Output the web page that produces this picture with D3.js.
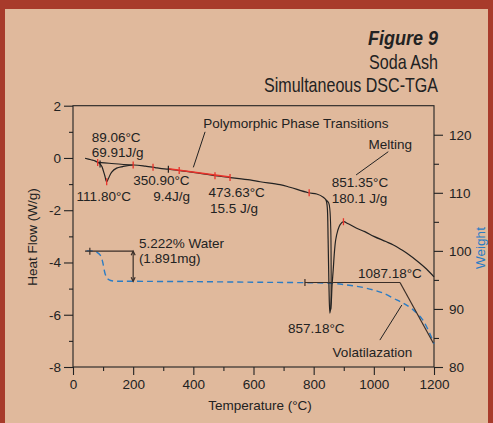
<!DOCTYPE html>
<html><head><meta charset="utf-8">
<script src="https://cdn.jsdelivr.net/npm/d3@7"></script>
<style>
html,body{margin:0;padding:0;background:#a83b2b;}
svg{display:block;}
text{font-family:"Liberation Sans",Arial,Helvetica,sans-serif;fill:#222;}
</style></head><body>
<svg id="c" width="493" height="423"></svg>
<script>
// ---- data ----
const tempTicks = [0, 200, 400, 600, 800, 1000, 1200];
const tempMinor = [100, 300, 500, 700, 900, 1100];
const heatTicks = [-8, -6, -4, -2, 0, 2];
const heatMinor = [-7, -5, -3, -1, 1];
const weightTicks = [80, 90, 100, 110, 120];
const weightMinor = [85, 95, 105, 115];

// DSC heat flow curve [temperature °C, W/g]
const dscCurve = [
  [40,-0.01],[60,-0.07],[73,-0.11],[82,-0.17],[90,-0.23],[96,-0.33],[100,-0.46],[106,-0.69],
  [112,-0.91],[118,-0.78],[128,-0.55],[145,-0.39],[165,-0.33],[200,-0.27],[240,-0.31],
  [273,-0.37],[289,-0.40],[317,-0.43],[353,-0.48],[400,-0.55],[472,-0.68],[522,-0.75],
  [588,-0.84],[622,-0.91],[688,-1.02],[721,-1.12],[782,-1.33],[810,-1.38],[832,-1.50],
  [841,-1.61],[845,-1.86],[848,-3.1],[851,-5.0],[854,-5.94],[858,-5.6],[861,-4.9],
  [865,-4.28],[869,-3.6],[873,-3.15],[880,-2.78],[888,-2.55],[899,-2.44],[915,-2.52],
  [943,-2.69],[970,-2.82],[1000,-3.0],[1040,-3.2],[1065,-3.33],[1090,-3.5],[1110,-3.65],
  [1150,-4.0],[1175,-4.25],[1200,-4.55]
];
// second trace drawn in the melting region
const dscMeltBaseline = [[841,-1.61],[850,-1.72],[854,-2.0],[857,-2.8],[858,-4.0],[858,-5.2],[857,-5.8]];
// integration baseline of first endotherm
const dscWaterBaseline = [[82,-0.17],[120,-0.2],[160,-0.24],[200,-0.27]];

// TGA weight curve [temperature °C, %]
const tgaCurve = [
  [45,100.0],[70,99.95],[80,99.75],[90,99.3],[97,98.4],[101,97.5],[106,96.2],[112,95.4],
  [117,95.1],[125,94.9],[134,94.8],[200,94.76],[400,94.7],[600,94.6],[700,94.56],
  [800,94.5],[865,94.4],[910,94.13],[954,93.8],[998,93.27],[1032,92.7],[1076,91.55],
  [1098,91.0],[1131,89.84],[1160,88.3],[1175,86.97],[1190,85.3],[1200,84.0]
];

// markers on DSC curve
const redMarks = [82, 112, 200, 266, 353, 472, 522, 785, 899];
const blackMarks = [90, 317];
const polymorphSpan = [317, 522];

// ---- layout ----
const svg = d3.select("#c");
svg.append("rect").attr("x",5).attr("y",9).attr("width",483).attr("height",414).attr("fill","#e0b99c");

const L = 73, R = 434, T = 105.7, B = 367;
const x = d3.scaleLinear().domain([0,1200]).range([L,R]);
const yH = d3.scaleLinear().domain([-8,2]).range([B,T]);
const yW = d3.scaleLinear().domain([80,125]).range([B,T]);

const ink = "#222";
const FS = 13.5;

// titles
function title(txt, y, len, bold){
  svg.append("text").attr("x",438).attr("y",y).attr("text-anchor","end")
    .attr("font-size",21).attr("textLength",len).attr("lengthAdjust","spacingAndGlyphs")
    .attr("font-weight",bold?"bold":"normal").attr("font-style",bold?"italic":"normal")
    .text(txt);
}
title("Figure 9", 45, 70, true);
title("Soda Ash", 69, 69, false);
title("Simultaneous DSC-TGA", 92, 174, false);

// frame
svg.append("rect").attr("x",L).attr("y",T).attr("width",R-L).attr("height",B-T)
  .attr("fill","none").attr("stroke",ink).attr("stroke-width",1.1);

const fmt = d => String(d);
function styleAxis(g){
  g.select(".domain").remove();
  g.selectAll("line").attr("stroke",ink).attr("stroke-width",1.1);
  g.selectAll("text").attr("font-size",FS).attr("fill",ink)
    .attr("font-family","'Liberation Sans',Arial,sans-serif");
}
// x axis
svg.append("g").attr("transform",`translate(0,${B})`)
  .call(d3.axisBottom(x).tickValues(tempTicks).tickSize(8).tickPadding(4).tickFormat(fmt))
  .call(styleAxis);
svg.append("g").attr("transform",`translate(0,${B})`)
  .call(d3.axisBottom(x).tickValues(tempMinor).tickSize(4).tickFormat(""))
  .call(styleAxis);
// left axis
svg.append("g").attr("transform",`translate(${L},0)`)
  .call(d3.axisLeft(yH).tickValues(heatTicks).tickSize(9).tickPadding(3).tickFormat(fmt))
  .call(styleAxis);
svg.append("g").attr("transform",`translate(${L},0)`)
  .call(d3.axisLeft(yH).tickValues(heatMinor).tickSize(4).tickFormat(""))
  .call(styleAxis);
// right axis
svg.append("g").attr("transform",`translate(${R},0)`)
  .call(d3.axisRight(yW).tickValues(weightTicks).tickSize(9).tickPadding(6).tickFormat(fmt))
  .call(styleAxis);
svg.append("g").attr("transform",`translate(${R},0)`)
  .call(d3.axisRight(yW).tickValues(weightMinor).tickSize(5).tickFormat(""))
  .call(styleAxis);

// axis titles
svg.append("text").attr("x",260).attr("y",410).attr("text-anchor","middle").attr("font-size",FS).text("Temperature (°C)");
svg.append("text").attr("transform","translate(37,237) rotate(-90)").attr("text-anchor","middle").attr("font-size",FS).text("Heat Flow (W/g)");
svg.append("text").attr("transform","translate(485,248) rotate(-90)").attr("text-anchor","middle").attr("font-size",FS)
  .style("fill","#2a7cc4").text("Weight");

// curves
const lineHraw = d3.line().x(d=>x(d[0])).y(d=>yH(d[1])).curve(d3.curveCatmullRom.alpha(0.5));
const lineW = d3.line().x(d=>x(d[0])).y(d=>yW(d[1])).curve(d3.curveCatmullRom.alpha(0.5));

svg.append("path").attr("d",lineW(tgaCurve)).attr("fill","none").attr("stroke","#2a7cc4")
  .attr("stroke-width",1.4).attr("stroke-dasharray","6,4");

svg.append("path").attr("d",lineHraw(dscWaterBaseline)).attr("fill","none").attr("stroke",ink).attr("stroke-width",1.1);
svg.append("path").attr("d",lineHraw(dscMeltBaseline)).attr("fill","none").attr("stroke",ink).attr("stroke-width",1.1);
svg.append("path").attr("d",lineHraw(dscCurve)).attr("fill","none").attr("stroke",ink).attr("stroke-width",1.2);

// interpolate curve value for markers
function hfAt(t){
  for(let i=1;i<dscCurve.length;i++){
    const a=dscCurve[i-1], b=dscCurve[i];
    if(t>=a[0] && t<=b[0]) return a[1]+(b[1]-a[1])*(t-a[0])/(b[0]-a[0]);
  }
  return dscCurve[dscCurve.length-1][1];
}
// polymorphic red segment
svg.append("line").attr("x1",x(polymorphSpan[0])).attr("y1",yH(hfAt(polymorphSpan[0]))-0.5)
  .attr("x2",x(polymorphSpan[1])).attr("y2",yH(hfAt(polymorphSpan[1]))-0.5)
  .attr("stroke","#e8322a").attr("stroke-width",1.5);
redMarks.forEach(t=>{
  const v = t===112 ? -0.91 : hfAt(t);
  svg.append("line").attr("x1",x(t)).attr("x2",x(t)).attr("y1",yH(v)-3.5).attr("y2",yH(v)+3.5)
    .attr("stroke","#e8322a").attr("stroke-width",1.3);
});
blackMarks.forEach(t=>{
  const v = hfAt(t);
  svg.append("line").attr("x1",x(t)).attr("x2",x(t)).attr("y1",yH(v)-3.5).attr("y2",yH(v)+3.5)
    .attr("stroke",ink).attr("stroke-width",1.2);
});

// TGA annotations
const ann = svg.append("g").attr("stroke","#3a2e28").attr("stroke-width",1.2).attr("fill","none");
ann.append("line").attr("x1",x(40)).attr("x2",x(200)).attr("y1",yW(99.95)).attr("y2",yW(99.95));
ann.append("line").attr("x1",x(56)).attr("x2",x(56)).attr("y1",yW(99.95)-3.5).attr("y2",yW(99.95)+3.5);
ann.append("line").attr("x1",x(200)).attr("x2",x(200)).attr("y1",yW(99.95)).attr("y2",yW(94.76));
ann.append("path").attr("d",`M${x(200)-2},${yW(99.95)+4}L${x(200)},${yW(99.95)}L${x(200)+2},${yW(99.95)+4}`);
ann.append("path").attr("d",`M${x(200)-2},${yW(94.76)-4}L${x(200)},${yW(94.76)}L${x(200)+2},${yW(94.76)-4}`);
ann.append("line").attr("x1",x(771)).attr("x2",x(1087)).attr("y1",yW(94.55)).attr("y2",yW(94.55));
ann.append("line").attr("x1",x(771)).attr("x2",x(771)).attr("y1",yW(94.55)-3.5).attr("y2",yW(94.55)+3.5);
ann.append("line").attr("x1",x(1087)).attr("x2",x(1198)).attr("y1",yW(94.55)).attr("y2",yW(84.1));

// pointer lines
const ptr = svg.append("g").attr("stroke",ink).attr("stroke-width",1);
ptr.append("line").attr("x1",x(439)).attr("y1",yH(1.0)).attr("x2",x(400)).attr("y2",yH(-0.36));
ptr.append("line").attr("x1",x(1048)).attr("y1",yH(0.24)).attr("x2",x(941)).attr("y2",yH(-0.65));
ptr.append("line").attr("x1",x(1020)).attr("y1",yH(-6.97)).attr("x2",x(1093)).attr("y2",yH(-5.63));

// text labels (data coordinates)
const labels = [
  ["89.06°C", 62, 0.62], ["69.91J/g", 62, 0.05], ["111.80°C", 12, -1.65],
  ["350.90°C", 200, -1.03], ["9.4J/g", 267, -1.65], ["473.63°C", 450, -1.48],
  ["15.5 J/g", 455, -2.09], ["Polymorphic Phase Transitions", 433, 1.16],
  ["Melting", 982, 0.33], ["851.35°C", 860, -1.10], ["180.1 J/g", 860, -1.74],
  ["857.18°C", 715, -6.71], ["1087.18°C", 947, -4.6], ["Volatilazation", 863, -7.6],
  ["5.222% Water", 219, -3.46], ["(1.891mg)", 219, -4.03]
];
labels.forEach(([t,a,b])=>{
  svg.append("text").attr("x",x(a)).attr("y",yH(b)).attr("font-size",FS).text(t);
});
</script>
</body></html>
